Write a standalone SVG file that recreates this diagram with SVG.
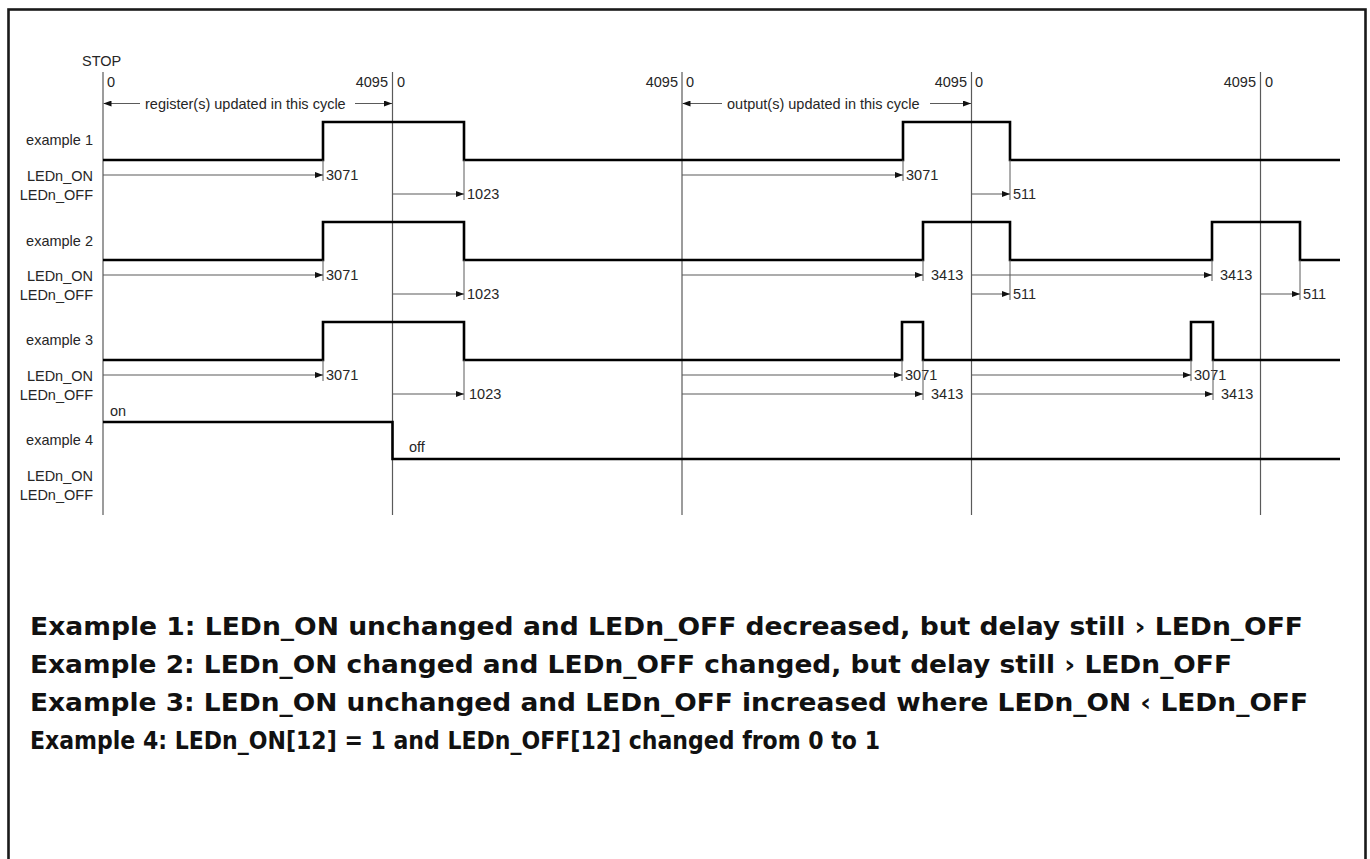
<svg xmlns="http://www.w3.org/2000/svg" width="1370" height="859" viewBox="0 0 1370 859">
<defs>
<style>
.grid{stroke:#5a5a5a;stroke-width:1.2;fill:none}
.sig{stroke:#000;stroke-width:2.6;fill:none}
.arr{stroke:#5a5a5a;stroke-width:1.2;fill:none;marker-end:url(#ah)}
.tick{stroke:#5a5a5a;stroke-width:1;fill:none}
.t{font-family:"Liberation Sans",Arial,sans-serif;font-size:14.5px;fill:#262626}
.r{text-anchor:end}
.big{font-family:"DejaVu Sans",sans-serif;font-weight:bold;font-size:25px;fill:#111}
</style>
<marker id="ah" markerUnits="userSpaceOnUse" markerWidth="8" markerHeight="6" refX="8" refY="3" orient="auto">
<path d="M0,0 L8,3 L0,6 z" fill="#111"/>
</marker>
</defs>
<rect width="1370" height="859" fill="#fff"/>
<rect x="8.5" y="9.5" width="1357" height="870" fill="none" stroke="#1a1a1a" stroke-width="2.6"/>

<g id="grid">
<line class="grid" x1="103" y1="72" x2="103" y2="515"/>
<line class="grid" x1="392.5" y1="72" x2="392.5" y2="515"/>
<line class="grid" x1="682" y1="72" x2="682" y2="515"/>
<line class="grid" x1="971.5" y1="72" x2="971.5" y2="515"/>
<line class="grid" x1="1260.5" y1="72" x2="1260.5" y2="515"/>
</g>

<g id="header">
<text class="t" x="82" y="65.5">STOP</text>
<text class="t" x="107" y="87">0</text>
<text class="t r" x="388" y="87">4095</text>
<text class="t" x="397" y="87">0</text>
<text class="t r" x="678" y="87">4095</text>
<text class="t" x="686" y="87">0</text>
<text class="t r" x="967" y="87">4095</text>
<text class="t" x="975" y="87">0</text>
<text class="t r" x="1256" y="87">4095</text>
<text class="t" x="1265" y="87">0</text>
<text class="t" x="145" y="108.5">register(s) updated in this cycle</text>
<text class="t" x="727" y="108.5">output(s) updated in this cycle</text>
</g>

<g id="example1">
<text class="t r" x="93" y="144.5">example 1</text>
<text class="t r" x="93" y="180.5">LEDn_ON</text>
<text class="t r" x="93" y="199.5">LEDn_OFF</text>
<path class="sig" d="M103,160 H323 V122 H464 V160 H903 V122 H1010 V160 H1340"/>
<text class="t" x="326" y="180">3071</text>
<text class="t" x="467" y="199">1023</text>
<text class="t" x="906" y="180">3071</text>
<text class="t" x="1013" y="199">511</text>
</g>

<g id="example2">
<text class="t r" x="93" y="245.5">example 2</text>
<text class="t r" x="93" y="280.5">LEDn_ON</text>
<text class="t r" x="93" y="299.5">LEDn_OFF</text>
<path class="sig" d="M103,260 H323 V222 H464 V260 H923 V222 H1010 V260 H1212 V222 H1300 V260 H1340"/>
<text class="t" x="326" y="280">3071</text>
<text class="t" x="467" y="299">1023</text>
<text class="t" x="931" y="280">3413</text>
<text class="t" x="1013" y="299">511</text>
<text class="t" x="1220" y="280">3413</text>
<text class="t" x="1303" y="299">511</text>
</g>

<g id="example3">
<text class="t r" x="93" y="344.5">example 3</text>
<text class="t r" x="93" y="380.5">LEDn_ON</text>
<text class="t r" x="93" y="399.5">LEDn_OFF</text>
<path class="sig" d="M103,360 H323 V322 H464 V360 H902 V322 H923 V360 H1191 V322 H1213 V360 H1340"/>
<text class="t" x="326" y="380">3071</text>
<text class="t" x="469" y="399">1023</text>
<text class="t" x="905" y="380">3071</text>
<text class="t" x="931" y="399">3413</text>
<text class="t" x="1194" y="380">3071</text>
<text class="t" x="1221" y="399">3413</text>
</g>

<g id="example4">
<text class="t" x="110" y="416">on</text>
<text class="t r" x="93" y="444.5">example 4</text>
<text class="t r" x="93" y="481">LEDn_ON</text>
<text class="t r" x="93" y="499.5">LEDn_OFF</text>
<path class="sig" d="M103,422 H392.5 V459 H1340"/>
<text class="t" x="409" y="451.5">off</text>
</g>

<g id="connectors">
<line class="arr" x1="140" y1="103.5" x2="103.5" y2="103.5"/>
<line class="arr" x1="355" y1="103.5" x2="392" y2="103.5"/>
<line class="arr" x1="722" y1="103.5" x2="682.5" y2="103.5"/>
<line class="arr" x1="930" y1="103.5" x2="971" y2="103.5"/>

<line class="tick" x1="323" y1="160" x2="323" y2="181"/>
<line class="tick" x1="464" y1="160" x2="464" y2="200"/>
<line class="tick" x1="903" y1="160" x2="903" y2="181"/>
<line class="tick" x1="1010" y1="160" x2="1010" y2="200"/>
<line class="arr" x1="103" y1="175" x2="323" y2="175"/>
<line class="arr" x1="682" y1="175" x2="903" y2="175"/>
<line class="arr" x1="392.5" y1="194" x2="464" y2="194"/>
<line class="arr" x1="971.5" y1="194" x2="1010" y2="194"/>

<line class="tick" x1="323" y1="260" x2="323" y2="281"/>
<line class="tick" x1="464" y1="260" x2="464" y2="300"/>
<line class="tick" x1="923" y1="260" x2="923" y2="281"/>
<line class="tick" x1="1010" y1="260" x2="1010" y2="300"/>
<line class="tick" x1="1212" y1="260" x2="1212" y2="281"/>
<line class="tick" x1="1300" y1="260" x2="1300" y2="300"/>
<line class="arr" x1="103" y1="275" x2="323" y2="275"/>
<line class="arr" x1="682" y1="275" x2="923" y2="275"/>
<line class="arr" x1="971.5" y1="275" x2="1212" y2="275"/>
<line class="arr" x1="392.5" y1="294" x2="464" y2="294"/>
<line class="arr" x1="971.5" y1="294" x2="1010" y2="294"/>
<line class="arr" x1="1260.5" y1="294" x2="1300" y2="294"/>

<line class="tick" x1="323" y1="360" x2="323" y2="381"/>
<line class="tick" x1="464" y1="360" x2="464" y2="400"/>
<line class="tick" x1="902" y1="360" x2="902" y2="381"/>
<line class="tick" x1="923" y1="360" x2="923" y2="400"/>
<line class="tick" x1="1191" y1="360" x2="1191" y2="381"/>
<line class="tick" x1="1213" y1="360" x2="1213" y2="400"/>
<line class="arr" x1="103" y1="375" x2="323" y2="375"/>
<line class="arr" x1="682" y1="375" x2="902" y2="375"/>
<line class="arr" x1="971.5" y1="375" x2="1191" y2="375"/>
<line class="arr" x1="392.5" y1="394" x2="464" y2="394"/>
<line class="arr" x1="682" y1="394" x2="923" y2="394"/>
<line class="arr" x1="971.5" y1="394" x2="1213" y2="394"/>
</g>

<g id="captions">
<text class="big" x="30" y="635" textLength="1273" lengthAdjust="spacingAndGlyphs">Example 1: LEDn_ON unchanged and LEDn_OFF decreased, but delay still › LEDn_OFF</text>
<text class="big" x="30" y="673" textLength="1202" lengthAdjust="spacingAndGlyphs">Example 2: LEDn_ON changed and LEDn_OFF changed, but delay still › LEDn_OFF</text>
<text class="big" x="30" y="711" textLength="1278" lengthAdjust="spacingAndGlyphs">Example 3: LEDn_ON unchanged and LEDn_OFF increased where LEDn_ON ‹ LEDn_OFF</text>
<text class="big" x="30" y="749" textLength="850" lengthAdjust="spacingAndGlyphs">Example 4: LEDn_ON[12] = 1 and LEDn_OFF[12] changed from 0 to 1</text>
</g>
</svg>
